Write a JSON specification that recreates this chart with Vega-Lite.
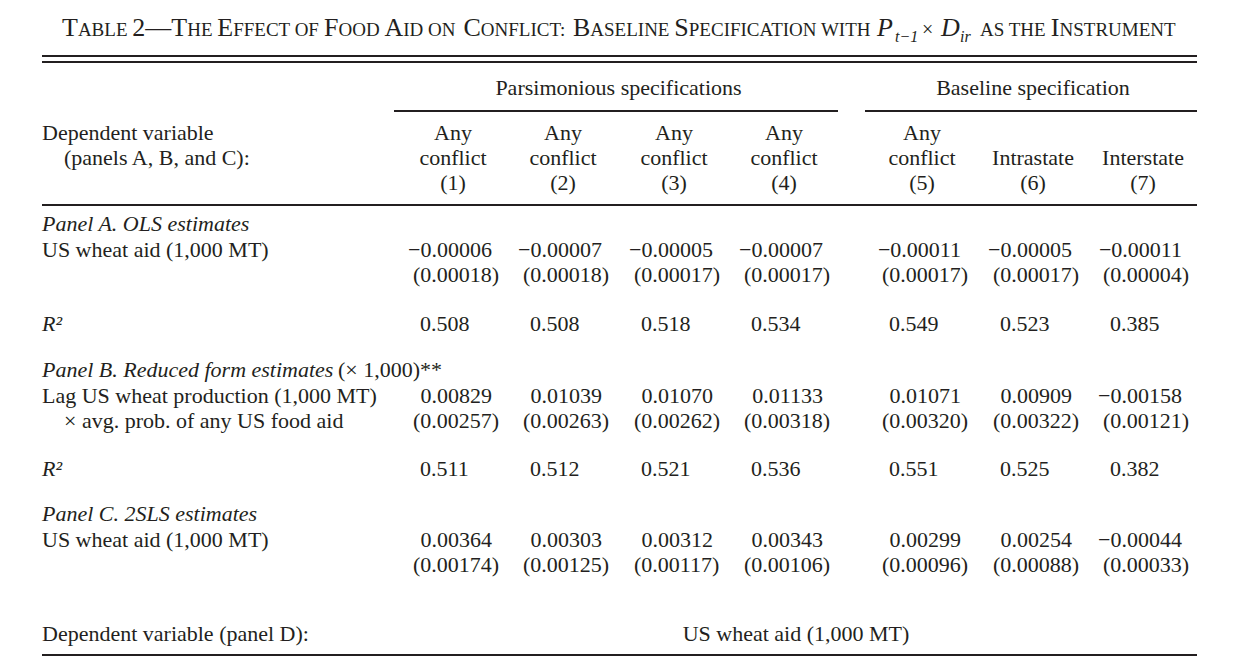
{
  "$schema": "https://vega.github.io/schema/vega-lite/v6.json",
  "width": 1233,
  "height": 659,
  "padding": 0,
  "autosize": {"type": "fit", "contains": "padding"},
  "background": "white",
  "config": {
    "view": {"stroke": null},
    "text": {"font": "Liberation Serif", "fontSize": 22, "color": "#231f20", "baseline": "alphabetic"},
    "rule": {"color": "#231f20"}
  },
  "datasets": {
    "title": [
      {"piece": 1, "line": 1, "kind": "big", "t": "T"},
      {"piece": 2, "line": 1, "kind": "small", "t": "ABLE"},
      {"piece": 3, "line": 1, "kind": "big", "t": "2—T"},
      {"piece": 4, "line": 1, "kind": "small", "t": "HE"},
      {"piece": 5, "line": 1, "kind": "big", "t": "E"},
      {"piece": 6, "line": 1, "kind": "small", "t": "FFECT OF"},
      {"piece": 7, "line": 1, "kind": "big", "t": "F"},
      {"piece": 8, "line": 1, "kind": "small", "t": "OOD"},
      {"piece": 9, "line": 1, "kind": "big", "t": "A"},
      {"piece": 10, "line": 1, "kind": "small", "t": "ID ON"},
      {"piece": 11, "line": 1, "kind": "big", "t": "C"},
      {"piece": 12, "line": 1, "kind": "small", "t": "ONFLICT:"},
      {"piece": 13, "line": 1, "kind": "big", "t": "B"},
      {"piece": 14, "line": 1, "kind": "small", "t": "ASELINE"},
      {"piece": 15, "line": 1, "kind": "big", "t": "S"},
      {"piece": 16, "line": 1, "kind": "small", "t": "PECIFICATION WITH"},
      {"piece": 17, "line": 1, "kind": "itbig", "t": "P"},
      {"piece": 18, "line": 2, "kind": "itsub", "t": "t−1"},
      {"piece": 19, "line": 1, "kind": "op", "t": "×"},
      {"piece": 20, "line": 1, "kind": "itbig", "t": "D"},
      {"piece": 21, "line": 2, "kind": "itsub", "t": "ir"},
      {"piece": 22, "line": 1, "kind": "small", "t": "AS THE"},
      {"piece": 23, "line": 1, "kind": "big", "t": "I"},
      {"piece": 24, "line": 1, "kind": "small", "t": "NSTRUMENT"}
    ],
    "rules": [
      {"line": 3, "from": 0, "to": 8},
      {"line": 4, "from": 0, "to": 8},
      {"line": 6, "from": 0.5, "to": 4.5},
      {"line": 6, "from": 4.6, "to": 8},
      {"line": 10, "from": 0, "to": 8},
      {"line": 23, "from": 0, "to": 8}
    ],
    "cells": [
      {"line": 5, "col": 2.5, "kind": "head", "t": "Parsimonious specifications"},
      {"line": 5, "col": 6, "kind": "head", "t": "Baseline specification"},
      {"line": 7, "col": 0, "kind": "label", "t": "Dependent variable"},
      {"line": 8, "col": 0.2, "kind": "label", "t": "(panels A, B, and C):"},
      {"line": 7, "col": 1, "kind": "head", "t": "Any"},
      {"line": 7, "col": 2, "kind": "head", "t": "Any"},
      {"line": 7, "col": 3, "kind": "head", "t": "Any"},
      {"line": 7, "col": 4, "kind": "head", "t": "Any"},
      {"line": 7, "col": 5, "kind": "head", "t": "Any"},
      {"line": 8, "col": 1, "kind": "head", "t": "conflict"},
      {"line": 8, "col": 2, "kind": "head", "t": "conflict"},
      {"line": 8, "col": 3, "kind": "head", "t": "conflict"},
      {"line": 8, "col": 4, "kind": "head", "t": "conflict"},
      {"line": 8, "col": 5, "kind": "head", "t": "conflict"},
      {"line": 8, "col": 6, "kind": "head", "t": "Intrastate"},
      {"line": 8, "col": 7, "kind": "head", "t": "Interstate"},
      {"line": 9, "col": 1, "kind": "head", "t": "(1)"},
      {"line": 9, "col": 2, "kind": "head", "t": "(2)"},
      {"line": 9, "col": 3, "kind": "head", "t": "(3)"},
      {"line": 9, "col": 4, "kind": "head", "t": "(4)"},
      {"line": 9, "col": 5, "kind": "head", "t": "(5)"},
      {"line": 9, "col": 6, "kind": "head", "t": "(6)"},
      {"line": 9, "col": 7, "kind": "head", "t": "(7)"},
      {"line": 11, "col": 0, "kind": "italic", "t": "Panel A. OLS estimates"},
      {"line": 12, "col": 0, "kind": "label", "t": "US wheat aid (1,000 MT)"},
      {"line": 12, "col": 1, "kind": "coef", "t": "−0.00006"},
      {"line": 12, "col": 2, "kind": "coef", "t": "−0.00007"},
      {"line": 12, "col": 3, "kind": "coef", "t": "−0.00005"},
      {"line": 12, "col": 4, "kind": "coef", "t": "−0.00007"},
      {"line": 12, "col": 5, "kind": "coef", "t": "−0.00011"},
      {"line": 12, "col": 6, "kind": "coef", "t": "−0.00005"},
      {"line": 12, "col": 7, "kind": "coef", "t": "−0.00011"},
      {"line": 13, "col": 1, "kind": "se", "t": "(0.00018)"},
      {"line": 13, "col": 2, "kind": "se", "t": "(0.00018)"},
      {"line": 13, "col": 3, "kind": "se", "t": "(0.00017)"},
      {"line": 13, "col": 4, "kind": "se", "t": "(0.00017)"},
      {"line": 13, "col": 5, "kind": "se", "t": "(0.00017)"},
      {"line": 13, "col": 6, "kind": "se", "t": "(0.00017)"},
      {"line": 13, "col": 7, "kind": "se", "t": "(0.00004)"},
      {"line": 14, "col": 0, "kind": "italic", "t": "R²"},
      {"line": 14, "col": 1, "kind": "r2", "t": "0.508"},
      {"line": 14, "col": 2, "kind": "r2", "t": "0.508"},
      {"line": 14, "col": 3, "kind": "r2", "t": "0.518"},
      {"line": 14, "col": 4, "kind": "r2", "t": "0.534"},
      {"line": 14, "col": 5, "kind": "r2", "t": "0.549"},
      {"line": 14, "col": 6, "kind": "r2", "t": "0.523"},
      {"line": 14, "col": 7, "kind": "r2", "t": "0.385"},
      {"line": 15, "col": 0, "kind": "italic", "t": "Panel B. Reduced form estimates"},
      {"line": 15, "col": 0.4, "kind": "label", "t": "(× 1,000)**"},
      {"line": 16, "col": 0, "kind": "label", "t": "Lag US wheat production (1,000 MT)"},
      {"line": 17, "col": 0.2, "kind": "label", "t": "× avg. prob. of any US food aid"},
      {"line": 16, "col": 1, "kind": "coef", "t": "0.00829"},
      {"line": 16, "col": 2, "kind": "coef", "t": "0.01039"},
      {"line": 16, "col": 3, "kind": "coef", "t": "0.01070"},
      {"line": 16, "col": 4, "kind": "coef", "t": "0.01133"},
      {"line": 16, "col": 5, "kind": "coef", "t": "0.01071"},
      {"line": 16, "col": 6, "kind": "coef", "t": "0.00909"},
      {"line": 16, "col": 7, "kind": "coef", "t": "−0.00158"},
      {"line": 17, "col": 1, "kind": "se", "t": "(0.00257)"},
      {"line": 17, "col": 2, "kind": "se", "t": "(0.00263)"},
      {"line": 17, "col": 3, "kind": "se", "t": "(0.00262)"},
      {"line": 17, "col": 4, "kind": "se", "t": "(0.00318)"},
      {"line": 17, "col": 5, "kind": "se", "t": "(0.00320)"},
      {"line": 17, "col": 6, "kind": "se", "t": "(0.00322)"},
      {"line": 17, "col": 7, "kind": "se", "t": "(0.00121)"},
      {"line": 18, "col": 0, "kind": "italic", "t": "R²"},
      {"line": 18, "col": 1, "kind": "r2", "t": "0.511"},
      {"line": 18, "col": 2, "kind": "r2", "t": "0.512"},
      {"line": 18, "col": 3, "kind": "r2", "t": "0.521"},
      {"line": 18, "col": 4, "kind": "r2", "t": "0.536"},
      {"line": 18, "col": 5, "kind": "r2", "t": "0.551"},
      {"line": 18, "col": 6, "kind": "r2", "t": "0.525"},
      {"line": 18, "col": 7, "kind": "r2", "t": "0.382"},
      {"line": 19, "col": 0, "kind": "italic", "t": "Panel C. 2SLS estimates"},
      {"line": 20, "col": 0, "kind": "label", "t": "US wheat aid (1,000 MT)"},
      {"line": 20, "col": 1, "kind": "coef", "t": "0.00364"},
      {"line": 20, "col": 2, "kind": "coef", "t": "0.00303"},
      {"line": 20, "col": 3, "kind": "coef", "t": "0.00312"},
      {"line": 20, "col": 4, "kind": "coef", "t": "0.00343"},
      {"line": 20, "col": 5, "kind": "coef", "t": "0.00299"},
      {"line": 20, "col": 6, "kind": "coef", "t": "0.00254"},
      {"line": 20, "col": 7, "kind": "coef", "t": "−0.00044"},
      {"line": 21, "col": 1, "kind": "se", "t": "(0.00174)"},
      {"line": 21, "col": 2, "kind": "se", "t": "(0.00125)"},
      {"line": 21, "col": 3, "kind": "se", "t": "(0.00117)"},
      {"line": 21, "col": 4, "kind": "se", "t": "(0.00106)"},
      {"line": 21, "col": 5, "kind": "se", "t": "(0.00096)"},
      {"line": 21, "col": 6, "kind": "se", "t": "(0.00088)"},
      {"line": 21, "col": 7, "kind": "se", "t": "(0.00033)"},
      {"line": 22, "col": 0, "kind": "label", "t": "Dependent variable (panel D):"},
      {"line": 22, "col": 4.1, "kind": "head", "t": "US wheat aid (1,000 MT)"}
    ]
  },
  "resolve": {"scale": {"x": "independent"}},
  "layer": [
    {
      "data": {"name": "title"},
      "encoding": {
        "x": {"field": "piece", "type": "quantitative", "axis": null,
              "scale": {"type": "linear", "zero": false, "nice": false,
                        "domain": [1, 2, 3, 4, 5, 6, 7, 8, 9, 10, 11, 12, 13, 14, 15, 16, 17, 18, 19, 20, 21, 22, 23, 24],
                        "range": [62, 77.9, 132.3, 187.2, 217.3, 233.2, 324, 338.5, 384.4, 403.2, 463.5, 480.8, 573, 590.3, 674.3, 688.8, 877, 895, 922, 941, 960, 980, 1050.8, 1059.5]}},
        "y": {"field": "line", "type": "quantitative", "axis": null,
              "scale": {"type": "linear", "zero": false, "nice": false,
                        "domain": [1, 2, 3, 4, 5, 6, 7, 8, 9, 10, 11, 12, 13, 14, 15, 16, 17, 18, 19, 20, 21, 22, 23],
                        "range": [36, 42, 56, 62, 95, 111, 140, 164.5, 189.5, 205, 231, 257, 282, 331, 376.5, 402.5, 427.5, 476, 521, 547, 572, 641, 655]}},
        "text": {"field": "t"}
      },
      "layer": [
        {"transform": [{"filter": "datum.kind === 'big'"}], "mark": {"type": "text", "align": "left", "fontSize": 26}},
        {"transform": [{"filter": "datum.kind === 'small'"}], "mark": {"type": "text", "align": "left", "fontSize": 19}},
        {"transform": [{"filter": "datum.kind === 'op'"}], "mark": {"type": "text", "align": "left", "fontSize": 20}},
        {"transform": [{"filter": "datum.kind === 'itbig'"}], "mark": {"type": "text", "align": "left", "fontSize": 26, "fontStyle": "italic"}},
        {"transform": [{"filter": "datum.kind === 'itsub'"}], "mark": {"type": "text", "align": "left", "fontSize": 16, "fontStyle": "italic"}}
      ]
    },
    {
      "encoding": {
        "y": {"field": "line", "type": "quantitative", "axis": null,
              "scale": {"type": "linear", "zero": false, "nice": false,
                        "domain": [1, 2, 3, 4, 5, 6, 7, 8, 9, 10, 11, 12, 13, 14, 15, 16, 17, 18, 19, 20, 21, 22, 23],
                        "range": [36, 42, 56, 62, 95, 111, 140, 164.5, 189.5, 205, 231, 257, 282, 331, 376.5, 402.5, 427.5, 476, 521, 547, 572, 641, 655]}}
      },
      "layer": [
        {
          "data": {"name": "rules"},
          "mark": {"type": "rule", "strokeWidth": 2},
          "encoding": {
            "x": {"field": "from", "type": "quantitative", "axis": null,
                  "scale": {"type": "linear", "zero": false, "nice": false,
                            "domain": [0, 0.2, 0.4, 0.5, 1, 2, 3, 4, 4.1, 4.5, 4.6, 5, 6, 7, 8],
                            "range": [42, 64, 338, 394, 420, 530, 641, 751, 763, 838, 865, 889, 1000, 1110, 1197]}},
            "x2": {"field": "to"}
          }
        },
        {
          "data": {"name": "cells"},
          "encoding": {
            "x": {"field": "col", "type": "quantitative", "axis": null,
                  "scale": {"type": "linear", "zero": false, "nice": false,
                            "domain": [0, 0.2, 0.4, 0.5, 1, 2, 3, 4, 4.1, 4.5, 4.6, 5, 6, 7, 8],
                            "range": [42, 64, 338, 394, 420, 530, 641, 751, 763, 838, 865, 889, 1000, 1110, 1197]}},
            "text": {"field": "t"}
          },
          "layer": [
            {"transform": [{"filter": "datum.kind === 'label'"}], "mark": {"type": "text", "align": "left"}},
            {"transform": [{"filter": "datum.kind === 'italic'"}], "mark": {"type": "text", "align": "left", "fontStyle": "italic"}},
            {"transform": [{"filter": "datum.kind === 'head'"}], "mark": {"type": "text", "align": "center", "dx": 33}},
            {"transform": [{"filter": "datum.kind === 'coef'"}], "mark": {"type": "text", "align": "right", "dx": 72}},
            {"transform": [{"filter": "datum.kind === 'se'"}], "mark": {"type": "text", "align": "left", "dx": -7}},
            {"transform": [{"filter": "datum.kind === 'r2'"}], "mark": {"type": "text", "align": "left"}}
          ]
        }
      ]
    }
  ]
}
